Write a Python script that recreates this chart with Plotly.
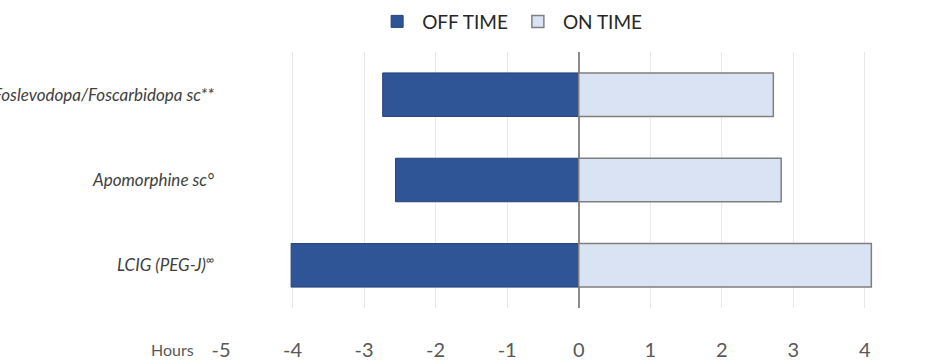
import plotly.graph_objects as go

categories = ["Foslevodopa/Foscarbidopa sc**", "Apomorphine sc°", "LCIG (PEG-J)<sup>∞</sup>"]
off_time = [-2.74, -2.56, -4.02]
on_time = [2.72, 2.83, 4.09]
x_ticks = [-5, -4, -3, -2, -1, 0, 1, 2, 3, 4]
x_tick_labels = ["-5", "-4", "-3", "-2", "-1", "0", "1", "2", "3", "4"]

FONT = "Lato, sans-serif"

fig = go.Figure()
fig.add_trace(go.Bar(
    y=categories, x=off_time, orientation="h", name="OFF TIME",
    marker=dict(color="#2F5597", line=dict(color="#24427A", width=1)),
))
fig.add_trace(go.Bar(
    y=categories, x=on_time, orientation="h", name="ON TIME",
    marker=dict(color="#DAE3F3", line=dict(color="#7F7F7F", width=1.5)),
))

fig.update_layout(
    width=925, height=361,
    margin=dict(l=221, r=0, t=52, b=48),
    barmode="relative", bargap=0.49,
    plot_bgcolor="white", paper_bgcolor="white",
    font=dict(family=FONT, color="#404040"),
    legend=dict(orientation="h", x=0.41, y=1.119, xanchor="center", yanchor="middle",
                font=dict(size=19, color="#262626"), tracegroupgap=0,
                itemwidth=40, traceorder="normal"),
    xaxis=dict(range=[-5, 4.84], tickvals=x_ticks, ticktext=x_tick_labels,
               showgrid=True, gridcolor="#E8E8E8",
               zeroline=True, zerolinecolor="#8C8C8C", zerolinewidth=1.5,
               tickfont=dict(size=20, color="#595959"), ticklabelstandoff=28,
               showline=False),
    yaxis=dict(autorange="reversed", categoryorder="array", categoryarray=categories,
               tickfont=dict(size=17, color="#404040", style="italic"),
               ticklabelstandoff=6, showgrid=False, automargin=False),
    annotations=[dict(text="Hours", xref="paper", yref="paper", x=-0.0696, y=-0.162,
                      xanchor="center", yanchor="middle", showarrow=False,
                      font=dict(size=16, color="#595959", family=FONT))],
)

fig.write_html("out.html")
